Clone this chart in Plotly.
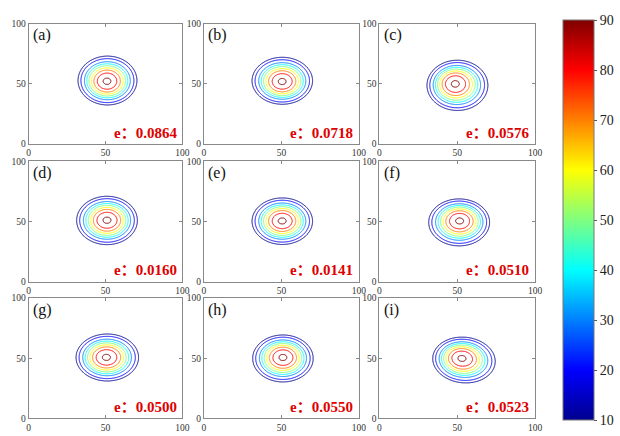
import numpy as np
import plotly.graph_objects as go

# Panel tags and the e value printed in each panel
panel_tags = ["(a)", "(b)", "(c)", "(d)", "(e)", "(f)", "(g)", "(h)", "(i)"]
e_values = [0.0864, 0.0718, 0.0576, 0.0160, 0.0141, 0.0510, 0.0500, 0.0550, 0.0523]

# Contour levels and the radius (axis units) at which each level sits
levels = [10, 20, 30, 40, 50, 60, 70, 80, 90]
ring_radius = [19.5, 17.6, 15.2, 13.6, 12.1, 10.5, 8.8, 6.5, 2.6]

# Per-panel shape of the peak: centre of the outer ring, centre of the inner ring,
# stretch along each axis and tilt (degrees)
outer_cx = [51.3, 50.6, 50.1, 51.0, 50.6, 51.2, 51.2, 51.0, 54.3]
outer_cy = [52.6, 52.4, 48.6, 50.8, 50.2, 49.2, 50.6, 49.8, 48.5]
inner_cx = [51.0, 50.5, 48.7, 51.0, 50.5, 51.5, 50.6, 51.0, 53.0]
inner_cy = [52.0, 51.8, 49.8, 51.0, 50.4, 50.4, 50.7, 50.6, 49.8]
stretch_x = [0.98, 1.00, 1.00, 1.01, 1.00, 1.00, 1.04, 1.00, 1.04]
stretch_y = [1.04, 1.00, 1.07, 1.03, 0.99, 1.00, 1.00, 1.00, 0.96]
tilt_deg = [0, 0, 0, 0, 0, 0, 0, 0, -25]

# Colour bar range / ticks
cbar_ticks = [10, 20, 30, 40, 50, 60, 70, 80, 90]
axis_ticks = [0, 50, 100]

jet = [
    [0.0, "rgb(0,0,143)"],
    [0.125, "rgb(0,0,255)"],
    [0.375, "rgb(0,255,255)"],
    [0.625, "rgb(255,255,0)"],
    [0.875, "rgb(255,0,0)"],
    [1.0, "rgb(128,0,0)"],
]

SERIF = "Liberation Serif, Noto Sans CJK SC, serif"

xs = np.linspace(18, 82, 257)
ys = np.linspace(18, 82, 257)
X, Y = np.meshgrid(xs, ys)


def field(i):
    """Build a scalar field whose iso-lines are the nested rings of panel i."""
    L = np.array([0] + levels + [100], dtype=float)
    R = np.array([28.0] + ring_radius + [0.4])
    K = len(L)
    th = np.deg2rad(tilt_deg[i])
    c, s = np.cos(th), np.sin(th)
    d = np.empty((K,) + X.shape)
    for k in range(K):
        t = min(max((k - 1) / (len(levels) - 1), 0.0), 1.0)
        cx = outer_cx[i] + t * (inner_cx[i] - outer_cx[i])
        cy = outer_cy[i] + t * (inner_cy[i] - outer_cy[i])
        u = (X - cx) * c + (Y - cy) * s
        v = -(X - cx) * s + (Y - cy) * c
        d[k] = np.hypot(u / (R[k] * stretch_x[i]), v / (R[k] * stretch_y[i]))
    idx = (d <= 1).sum(axis=0) - 1
    k = np.clip(idx, 0, K - 2)
    dk = np.take_along_axis(d, k[None], 0)[0]
    dk1 = np.take_along_axis(d, (k + 1)[None], 0)[0]
    frac = np.clip((1 - dk) / np.maximum(dk1 - dk, 1e-9), 0, 1)
    z = L[k] + frac * (L[k + 1] - L[k])
    z[idx < 0] = 0
    z[idx >= K - 1] = 100
    return z.astype(np.float32)


# Panel placement (paper fractions)
col_x = [(0.0435, 0.2952), (0.3306, 0.5839), (0.6177, 0.8726)]
row_y = [(0.6743, 0.9564), (0.3509, 0.6330), (0.0298, 0.3119)]

fig = go.Figure()
layout = dict(
    width=620,
    height=436,
    margin=dict(l=0, r=0, t=0, b=0),
    paper_bgcolor="white",
    plot_bgcolor="white",
    showlegend=False,
    font=dict(family=SERIF, size=10, color="#333333"),
)
annotations = []

for i in range(9):
    r, cidx = divmod(i, 3)
    n = "" if i == 0 else str(i + 1)
    xa, ya = "x" + n, "y" + n
    fig.add_trace(
        go.Contour(
            x=xs,
            y=ys,
            z=field(i),
            xaxis=xa,
            yaxis=ya,
            zmin=10,
            zmax=90,
            zauto=False,
            colorscale=jet,
            contours=dict(start=10, end=90, size=10, coloring="lines"),
            line=dict(width=1),
            hoverinfo="skip",
            showscale=False,
        )
    )
    axis_common = dict(
        range=[0, 100],
        tickvals=axis_ticks,
        ticks="inside",
        ticklen=3,
        tickcolor="#888888",
        showline=True,
        linecolor="#888888",
        linewidth=1,
        mirror="ticks",
        showgrid=False,
        zeroline=False,
        tickfont=dict(family=SERIF, size=9.5, color="#333333"),
    )
    layout["xaxis" + n] = dict(axis_common, domain=list(col_x[cidx]), anchor=ya)
    layout["yaxis" + n] = dict(axis_common, domain=list(row_y[r]), anchor=xa)
    annotations.append(
        dict(
            text=panel_tags[i],
            xref=xa + " domain",
            yref=ya + " domain",
            x=0.015,
            y=0.995,
            xanchor="left",
            yanchor="top",
            showarrow=False,
            font=dict(family=SERIF, size=16, color="#111111"),
        )
    )
    annotations.append(
        dict(
            text="<b>e\uff1a{:.4f}</b>".format(e_values[i]),
            xref=xa + " domain",
            yref=ya + " domain",
            x=0.975,
            y=0.01,
            xanchor="right",
            yanchor="bottom",
            showarrow=False,
            font=dict(family=SERIF, size=15, color="#e00000"),
        )
    )

# Continuous colour bar shared by all panels
fig.add_trace(
    go.Scatter(
        x=[None],
        y=[None],
        mode="markers",
        hoverinfo="skip",
        marker=dict(
            color=[10],
            cmin=10,
            cmax=90,
            colorscale=jet,
            showscale=True,
            colorbar=dict(
                x=569 / 620,
                xanchor="left",
                xref="paper",
                y=1 - 220.5 / 436,
                yanchor="middle",
                len=409 / 436,
                lenmode="fraction",
                thickness=31,
                thicknessmode="pixels",
                outlinecolor="#777777",
                outlinewidth=1,
                tickvals=cbar_ticks,
                ticks="outside",
                ticklen=3,
                tickcolor="#555555",
                tickfont=dict(family=SERIF, size=14, color="#222222"),
                ypad=0,
                xpad=0,
            ),
        ),
    )
)

layout["annotations"] = annotations
fig.update_layout(**layout)
fig.write_html("out.html")
